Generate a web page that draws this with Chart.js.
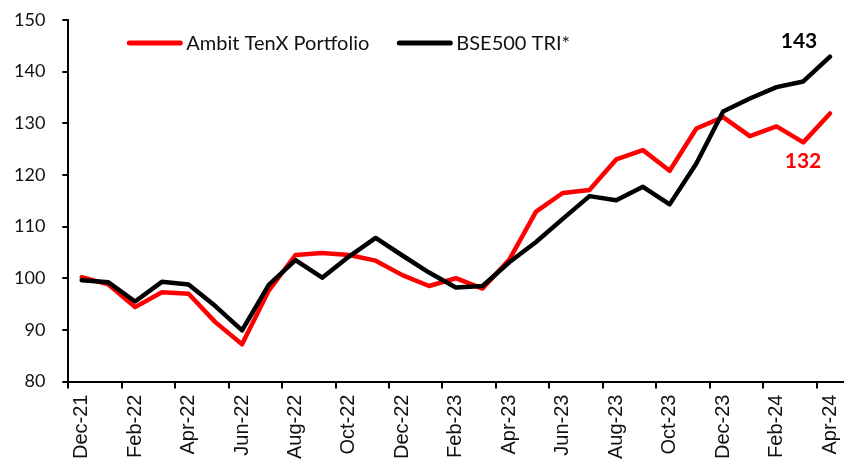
<!DOCTYPE html>
<html>
<head>
<meta charset="utf-8">
<script src="https://cdn.jsdelivr.net/npm/chart.js@4"></script>
<style>
  html, body { margin: 0; padding: 0; background: #fff; }
  #chart { display: block; }
</style>
</head>
<body>
<canvas id="chart" width="846" height="466"></canvas>
<script>
"use strict";

// Monthly categories, Dec-21 .. Apr-24
var months = [
    "Dec-21", "Jan-22", "Feb-22", "Mar-22", "Apr-22", "May-22", "Jun-22", "Jul-22",
    "Aug-22", "Sep-22", "Oct-22", "Nov-22", "Dec-22", "Jan-23", "Feb-23", "Mar-23",
    "Apr-23", "May-23", "Jun-23", "Jul-23", "Aug-23", "Sep-23", "Oct-23", "Nov-23",
    "Dec-23", "Jan-24", "Feb-24", "Mar-24", "Apr-24"
];

var ambitTenX = [
    100.2, 98.8, 94.4, 97.3, 97.0, 91.5, 87.2, 97.6,
    104.5, 104.9, 104.5, 103.4, 100.6, 98.5, 100.0, 98.0,
    103.6, 112.9, 116.5, 117.1, 123.0, 124.8, 120.8, 129.0,
    131.2, 127.5, 129.4, 126.3, 131.9
];

var bse500Tri = [
    99.6, 99.2, 95.5, 99.3, 98.8, 94.6, 89.9, 98.7,
    103.5, 100.1, 104.2, 107.8, 104.4, 101.1, 98.2, 98.5,
    103.1, 107.0, 111.5, 115.9, 115.1, 117.7, 114.3, 122.2,
    132.3, 134.8, 137.0, 138.1, 142.9
];

var yTicks = { min: 80, max: 150, step: 10 };

var RED = "#ff0000";
var BLACK = "#000000";

// Legend drawn inside the plot area, plus the end-of-line value labels
var annotations = {
    id: "annotations",
    afterDatasetsDraw: function (chart) {
        var ctx = chart.ctx;
        var area = chart.chartArea;
        var sets = chart.data.datasets;

        // legend
        var items = [
            { x: area.left + 59, ds: sets[0] },
            { x: area.left + 329, ds: sets[1] }
        ];
        var ly = area.top + 23;
        ctx.save();
        ctx.font = "20px Lato";
        ctx.textBaseline = "middle";
        ctx.textAlign = "left";
        items.forEach(function (it) {
            ctx.strokeStyle = it.ds.borderColor;
            ctx.lineWidth = 5;
            ctx.lineCap = "round";
            ctx.beginPath();
            ctx.moveTo(it.x + 2, ly);
            ctx.lineTo(it.x + 53, ly);
            ctx.stroke();
            ctx.fillStyle = "#111";
            ctx.fillText(it.ds.label, it.x + 59, ly + 1);
        });

        // end labels
        ctx.font = "bold 21px Lato";
        ctx.textAlign = "center";
        var last = months.length - 1;
        var mRed = chart.getDatasetMeta(0).data[last];
        var mBlack = chart.getDatasetMeta(1).data[last];
        ctx.fillStyle = RED;
        ctx.fillText(Math.round(ambitTenX[last]), mRed.x - 27, mRed.y + 48);
        ctx.fillStyle = BLACK;
        ctx.fillText(Math.round(bse500Tri[last]), mBlack.x - 31, mBlack.y - 15);
        ctx.restore();
    }
};

var ctx = document.getElementById("chart").getContext("2d");
var chart = new Chart(ctx, {
    type: "line",
    data: {
        labels: months,
        datasets: [
            {
                label: "Ambit TenX Portfolio",
                data: ambitTenX,
                borderColor: RED,
                backgroundColor: RED,
                borderWidth: 4.5,
                pointRadius: 0,
                tension: 0,
                borderJoinStyle: "round",
                borderCapStyle: "round",
                order: 1
            },
            {
                label: "BSE500 TRI*",
                data: bse500Tri,
                borderColor: BLACK,
                backgroundColor: BLACK,
                borderWidth: 4.5,
                pointRadius: 0,
                tension: 0,
                borderJoinStyle: "round",
                borderCapStyle: "round",
                order: 0
            }
        ]
    },
    options: {
        responsive: false,
        animation: false,
        layout: { padding: { left: -3, top: 20, right: -4, bottom: 1 } },
        plugins: {
            legend: { display: false },
            tooltip: { enabled: false }
        },
        scales: {
            x: {
                offset: true,
                grid: {
                    offset: true,
                    drawOnChartArea: false,
                    drawTicks: true,
                    tickLength: 7,
                    lineWidth: 2,
                    color: function (c) { return c.index % 2 === 0 ? BLACK : "rgba(0,0,0,0)"; }
                },
                border: { color: BLACK, width: 2 },
                ticks: {
                    autoSkip: false,
                    maxRotation: 90,
                    minRotation: 90,
                    padding: 6,
                    color: "#111",
                    font: { family: "'Liberation Sans', Arial", size: 20, lineHeight: 0.5 },
                    callback: function (v, i) { return i % 2 === 0 ? months[i] : ""; }
                }
            },
            y: {
                min: yTicks.min,
                max: yTicks.max,
                grid: {
                    drawOnChartArea: false,
                    drawTicks: true,
                    tickLength: 6,
                    lineWidth: 2,
                    color: BLACK
                },
                border: { color: BLACK, width: 2 },
                ticks: {
                    stepSize: yTicks.step,
                    padding: 17,
                    color: "#111",
                    font: { family: "Lato", size: 18, lineHeight: 0.3 }
                }
            }
        }
    },
    plugins: [annotations]
});
</script>
</body>
</html>
